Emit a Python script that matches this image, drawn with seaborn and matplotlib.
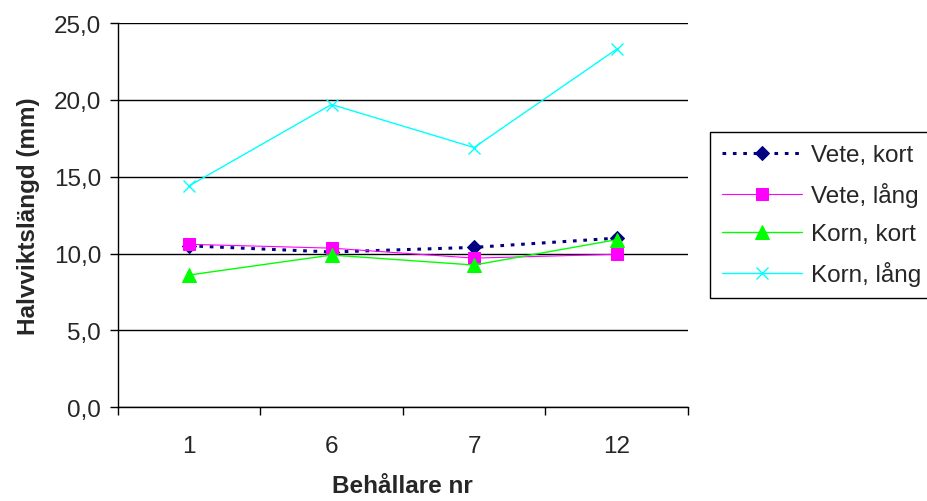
import pandas as pd
import matplotlib.pyplot as plt
import seaborn as sns
from matplotlib.ticker import FuncFormatter, FixedLocator

# data
behallare = ["1", "6", "7", "12"]
vete_kort = [10.5, 10.1, 10.4, 11.0]
vete_lang = [10.6, 10.35, 9.7, 9.95]
korn_kort = [8.6, 9.9, 9.25, 10.9]
korn_lang = [14.4, 19.7, 16.9, 23.3]

series = {
    "Vete, kort": vete_kort,
    "Vete, lång": vete_lang,
    "Korn, kort": korn_kort,
    "Korn, lång": korn_lang,
}

rows = []
for name, vals in series.items():
    for i, v in enumerate(vals):
        rows.append({"serie": name, "pos": i, "varde": v})
df = pd.DataFrame(rows)

sns.set_style("white")
plt.rcParams['font.family'] = ['Liberation Sans', 'DejaVu Sans']
fs = 17.5

fig = plt.figure(figsize=(9.27, 5.02), dpi=100)
ax = fig.add_axes([0.127, 0.187, 0.615, 0.765])

styles = {
    "Vete, kort": dict(color="#000080", marker="D", markersize=7, linewidth=2.2, linestyle=(0, (1.2, 2.2))),
    "Vete, lång": dict(color="#FF00FF", marker="s", markersize=9, linewidth=0.8, linestyle="-"),
    "Korn, kort": dict(color="#00FF00", marker="^", markersize=10, linewidth=1, linestyle="-"),
    "Korn, lång": dict(color="#00FFFF", marker="x", markersize=9, markeredgewidth=1, linewidth=1, linestyle="-"),
}

for name in series:
    d = df[df["serie"] == name]
    st = dict(styles[name])
    st["markeredgecolor"] = st["color"]
    st["markerfacecolor"] = st["color"]
    sns.lineplot(data=d, x="pos", y="varde", ax=ax, label=name, **st)

ax.set_ylim(0, 25)
ax.set_xlim(-0.5, 3.5)
ax.set_yticks([0, 5, 10, 15, 20, 25])
ax.yaxis.set_major_formatter(FuncFormatter(lambda v, p: f"{v:.1f}".replace(".", ",")))
ax.yaxis.grid(True, color="black", linewidth=1)
ax.set_axisbelow(True)

ax.xaxis.set_major_locator(FixedLocator([-0.5, 0.5, 1.5, 2.5, 3.5]))
ax.xaxis.set_minor_locator(FixedLocator([0, 1, 2, 3]))
ax.set_xticklabels([])
ax.set_xticklabels(behallare, minor=True)
ax.tick_params(axis="x", which="major", direction="out", length=6, width=1, color="black", bottom=True)
ax.tick_params(axis="x", which="minor", length=0, labelsize=fs, pad=20)
ax.tick_params(axis="y", direction="out", length=6, width=1, color="black", left=True, labelsize=fs, pad=6)

for s in ["top", "right"]:
    ax.spines[s].set_visible(False)
for s in ["left", "bottom"]:
    ax.spines[s].set_color("black")
    ax.spines[s].set_linewidth(1)

ax.set_xlabel("Behållare nr", fontsize=fs, fontweight="bold", labelpad=12)
ax.set_ylabel("Halvviktslängd (mm)", fontsize=fs, fontweight="bold", labelpad=10)

leg = ax.legend(loc="upper left", bbox_to_anchor=(0.766, 0.735), bbox_transform=fig.transFigure,
                fontsize=fs, frameon=True, fancybox=False, edgecolor="black", framealpha=1,
                handlelength=3.3, labelspacing=0.66, borderpad=0.5, handletextpad=0.35, borderaxespad=0)
leg.get_frame().set_linewidth(1)

fig.savefig("out.png", dpi=100)
